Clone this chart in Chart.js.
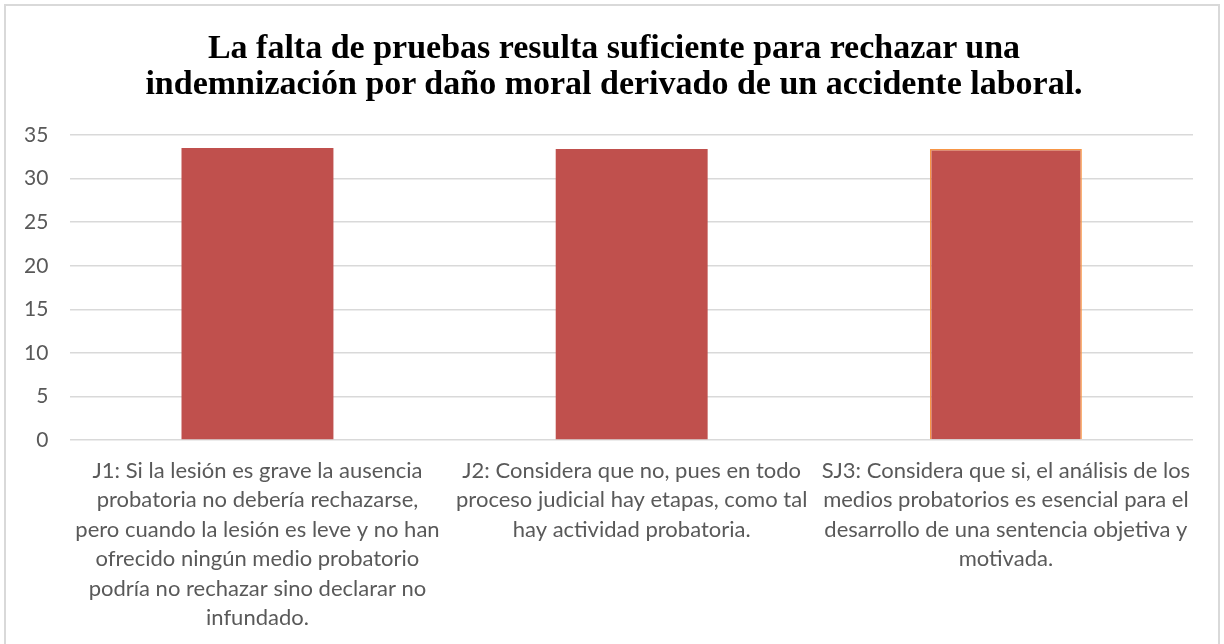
<!DOCTYPE html>
<html>
<head>
<meta charset="utf-8">
<script src="https://cdn.jsdelivr.net/npm/chart.js@4"></script>
<style>
  html, body { margin: 0; padding: 0; background: #fff; overflow: hidden; }
  #wrap { position: relative; width: 1224px; height: 644px; }
  #frame { position: absolute; left: 4px; top: 4px; width: 1216px; height: 660px; border: 2px solid #d9d9d9; box-sizing: border-box; pointer-events: none; }
  #title { position: absolute; left: 14px; top: 29px; width: 1200px; text-align: center; color: #000;
           font: bold 34px/36px "Liberation Serif", "DejaVu Serif", serif; white-space: nowrap; }
</style>
</head>
<body>
<div id="wrap">
  <canvas id="chart" width="1224" height="644"></canvas>
  <div id="title"></div>
  <div id="frame"></div>
</div>
<script>
const titleLines = [
  'La falta de pruebas resulta suficiente para rechazar una',
  'indemnización por daño moral derivado de un accidente laboral.'
];

const categories = [
  ['J1: Si la lesión es grave la ausencia', 'probatoria no debería rechazarse,', 'pero cuando la lesión es leve y no han', 'ofrecido ningún medio probatorio', 'podría no rechazar sino declarar no', 'infundado.'],
  ['J2: Considera que no, pues en todo', 'proceso judicial hay etapas, como tal', 'hay actividad probatoria.'],
  ['SJ3: Considera que si, el análisis de los', 'medios probatorios es esencial para el', 'desarrollo de una sentencia objetiva y', 'motivada.']
];

const values = [33.5, 33.4, 33.4];
const barBorders = ['#c0504d', '#c0504d', '#f79646'];

const yMin = 0;
const yMax = 35;
const yStep = 5;

// title as html text, centred on the frame
const titleEl = document.getElementById('title');
titleLines.forEach(function(line, i) {
  if (i > 0) titleEl.appendChild(document.createElement('br'));
  titleEl.appendChild(document.createTextNode(line));
});

const ctx = document.getElementById('chart').getContext('2d');
const chart = new Chart(ctx, {
  type: 'bar',
  data: {
    labels: categories,
    datasets: [{
      data: values,
      backgroundColor: '#c0504d',
      borderColor: barBorders,
      borderWidth: [0, 0, 1.5],
      barPercentage: 0.406,
      categoryPercentage: 1
    }]
  },
  options: {
    responsive: false,
    animation: false,
    layout: { padding: { left: 2, right: 31, top: 135, bottom: -5 } },
    plugins: {
      legend: { display: false },
      tooltip: { enabled: false },
      title: { display: false }
    },
    scales: {
      x: {
        grid: { display: false, drawTicks: false },
        border: { display: false },
        ticks: {
          color: '#595959',
          font: { family: 'Lato, "Open Sans", sans-serif', size: 22, lineHeight: 1.34 },
          maxRotation: 0,
          autoSkip: false,
          padding: 16
        }
      },
      y: {
        min: yMin,
        max: yMax,
        grid: { color: '#d9d9d9', lineWidth: 1.5, drawTicks: false },
        border: { display: false },
        ticks: {
          stepSize: yStep,
          color: '#595959',
          font: { family: 'Lato, "Open Sans", sans-serif', size: 21 },
          padding: 22
        }
      }
    }
  }
});
</script>
</body>
</html>
